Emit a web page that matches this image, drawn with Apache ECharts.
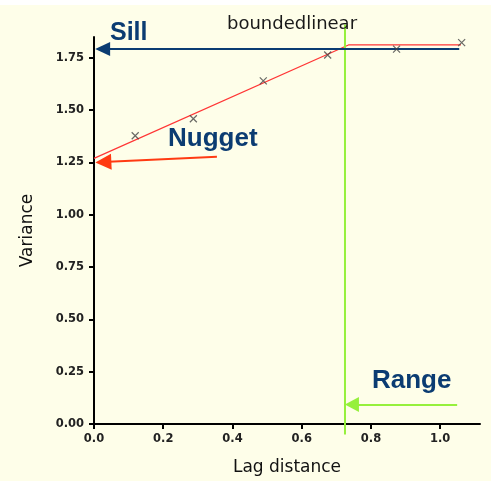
<!DOCTYPE html>
<html>
<head>
<meta charset="utf-8">
<script src="https://cdn.jsdelivr.net/npm/echarts@6/dist/echarts.min.js"></script>
<style>
  html, body { margin: 0; padding: 0; background: #ffffff; }
  #main { width: 491px; height: 481px; }
</style>
</head>
<body>
<div id="main"></div>
<script>
// empirical variogram points (lag, variance)
var lags = [0.119, 0.287, 0.489, 0.675, 0.874, 1.062];
var variances = [1.378, 1.459, 1.640, 1.764, 1.792, 1.823];

// fitted bounded linear model: nugget -> sill at range
var modelX = [0, 0.735, 1.06];
var modelY = [1.27, 1.812, 1.812];

var sill = 1.793;
var nugget = 1.25;
var range = 0.725;

var xTicks = [0, 0.2, 0.4, 0.6, 0.8, 1.0];
var yTicks = [0, 0.25, 0.5, 0.75, 1.0, 1.25, 1.5, 1.75];

var navy = '#0b3c72';
var myChart = echarts.init(document.getElementById('main'));

var points = lags.map(function (x, i) { return [x, variances[i]]; });
var model = modelX.map(function (x, i) { return [x, modelY[i]]; });

var option = {
  backgroundColor: '#fefee9',
  animation: false,
  title: {
    text: 'boundedlinear',
    left: 287, top: 10, textAlign: 'center',
    textStyle: { fontFamily: 'DejaVu Sans', fontSize: 18, fontWeight: 'normal', color: '#1a1a1a' }
  },
  grid: { left: 94, right: 11, top: 37, bottom: 56 },
  xAxis: {
    type: 'value', min: 0, max: 1.115,
    name: 'Lag distance', nameLocation: 'middle', nameGap: 35,
    nameTextStyle: { fontFamily: 'DejaVu Sans', fontSize: 17, color: '#111' },
    axisLine: { lineStyle: { color: '#000', width: 2 } },
    axisTick: { customValues: xTicks, length: 5, lineStyle: { color: '#000', width: 2 } },
    axisLabel: {
      customValues: xTicks, margin: 9,
      fontFamily: 'DejaVu Sans', fontSize: 11.5, fontWeight: 'bold', color: '#222',
      formatter: function (v) { return v.toFixed(1); }
    },
    splitLine: { show: false }
  },
  yAxis: {
    type: 'value', min: 0, max: 1.85,
    name: 'Variance', nameLocation: 'middle', nameGap: 58,
    nameTextStyle: { fontFamily: 'DejaVu Sans', fontSize: 17, color: '#111' },
    axisLine: { show: true, lineStyle: { color: '#000', width: 2 } },
    axisTick: { show: true, customValues: yTicks, length: 5, lineStyle: { color: '#000', width: 2 } },
    axisLabel: {
      customValues: yTicks, margin: 10,
      fontFamily: 'DejaVu Sans', fontSize: 11.5, fontWeight: 'bold', color: '#222',
      formatter: function (v) { return v.toFixed(2); }
    },
    splitLine: { show: false }
  },
  graphic: [
    { type: 'rect', left: 0, top: 0, shape: { width: 491, height: 5 }, style: { fill: '#ffffff' }, z: 100 },
    { type: 'text', left: 110, top: 21, style: { text: 'Sill', font: 'bold 25px "Liberation Sans"', fill: navy }, z: 100 },
    { type: 'text', left: 168, top: 126, style: { text: 'Nugget', font: 'bold 26px "Liberation Sans"', fill: navy }, z: 100 },
    { type: 'text', left: 372, top: 368, style: { text: 'Range', font: 'bold 26px "Liberation Sans"', fill: navy }, z: 100 }
  ],
  series: [
    {
      type: 'line', data: model, symbol: 'none', clip: false, z: 3,
      lineStyle: { color: '#ff3535', width: 1.2 }
    },
    {
      type: 'line', data: [[range, 1.91], [range, -0.05]], symbol: 'none', clip: false, z: 4,
      lineStyle: { color: '#96f03c', width: 2 },
      markLine: {
        silent: true, symbol: ['none', 'triangle'], symbolSize: [15, 14],
        lineStyle: { color: '#96f03c', width: 2, type: 'solid' },
        label: { show: false },
        data: [[{ coord: [1.049, 0.093] }, { coord: [range + 0.02, 0.093] }]]
      }
    },
    {
      type: 'line', data: [], symbol: 'none',
      markLine: {
        silent: true, symbol: ['none', 'triangle'], symbolSize: [14, 15],
        lineStyle: { color: navy, width: 2.2, type: 'solid' },
        label: { show: false },
        data: [[{ coord: [1.055, sill] }, { coord: [0.025, sill] }]]
      }
    },
    {
      type: 'line', data: [], symbol: 'none',
      markLine: {
        silent: true, symbol: ['none', 'triangle'], symbolSize: [16, 16],
        lineStyle: { color: '#ff3a12', width: 2, type: 'solid' },
        label: { show: false },
        data: [[{ coord: [0.355, 1.277] }, { coord: [0.027, nugget + 0.002] }]]
      }
    },
    {
      type: 'scatter', data: points, z: 5,
      symbol: 'path://M0,0L10,10M10,0L0,10', symbolSize: 7,
      itemStyle: { color: 'none', borderColor: '#444', borderWidth: 1.2 }
    }
  ]
};

myChart.setOption(option);
</script>
</body>
</html>
